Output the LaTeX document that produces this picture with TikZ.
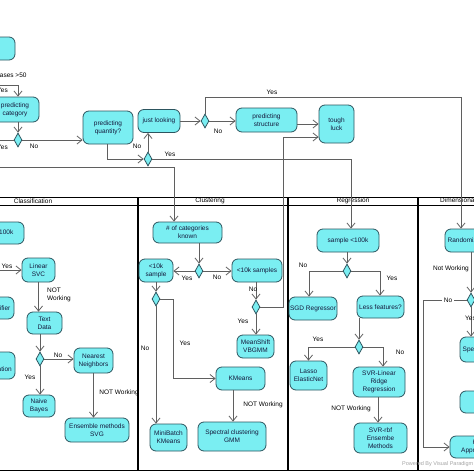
\documentclass[tikz,border=0pt]{standalone}
\usepackage{fontspec}
\setmainfont{Liberation Sans}
\usetikzlibrary{arrows.meta,shapes.geometric,calc}
\definecolor{nfill}{RGB}{122,238,242}
\definecolor{nborder}{RGB}{45,85,95}
\definecolor{ntext}{RGB}{20,25,60}
\definecolor{conn}{RGB}{95,95,95}
\definecolor{wm}{RGB}{165,165,165}
\begin{document}
\begin{tikzpicture}[x=1pt,y=-1pt,
  act/.style={draw=nborder, fill=nfill, rounded corners=6pt, line width=0.8pt, align=center, inner sep=0pt, text=ntext, font=\fontsize{6.5}{8}\selectfont},
  wh/.style 2 args={minimum width=#1pt, minimum height=#2pt},
  dec/.style={draw=nborder, fill=nfill, diamond, line width=0.8pt, inner sep=0pt, minimum width=8pt, minimum height=14pt},
  lbl/.style={font=\fontsize{6.5}{8}\selectfont, inner sep=0pt, text=black},
  arr/.style={draw=conn, line width=0.8pt, -{Straight Barb[length=5pt,width=8pt]}},
  ln/.style={draw=conn, line width=0.8pt},
  lane/.style={draw=black, line width=0.8pt},
  divider/.style={draw=black, line width=1.6pt},
]
\useasboundingbox (0,0) rectangle (474,474);
\fill[white] (0,0) rectangle (474,474);
\clip (0,0) rectangle (474,474);

% swimlanes
\draw[lane] (0,197) -- (474,197);
\draw[lane] (0,205) -- (474,205);
\draw[lane] (0,470) -- (474,470);
\draw[divider] (138,197) -- (138,470);
\draw[divider] (288,197) -- (288,470);
\draw[divider] (418,197) -- (418,470);
\node[lbl] (hcla) at (33,201) {Classification};
\node[lbl] (hclu) at (210,201) {Clustering};
\node[lbl] (hreg) at (353,201) {Regression};
\node[lbl, anchor=west] (hdim) at (440,201) {Dimensionality Reduction};

% top nodes
\node[act, wh={35}{23}] (start) at (-2.5,48.5) {};
\node[act, wh={48}{25}] (pc) at (15,109.5) {predicting\\category};
\node[dec] (d1) at (18,140) {};
\node[act, wh={50}{33}] (pq) at (108,127.5) {predicting\\quantity?};
\node[act, wh={42}{23}] (jl) at (159,121) {just looking};
\node[dec] (d2) at (148,159) {};
\node[dec] (d3) at (205,121) {};
\node[act, wh={61}{24}] (ps) at (266.5,120) {predicting\\structure};
\node[act, wh={35}{38}] (tl) at (336.5,124) {tough\\luck};

% classification
\node[act, wh={62}{22}] (c100) at (-7,233) {sample <100k};
\node[act, wh={33}{24}] (lsvc) at (38.5,270) {Linear\\SVC};
\node[act, wh={35}{22}] (td) at (44.5,323) {Text\\Data};
\node[act, wh={50}{22}] (sgdc) at (-11,308) {SGD Classifier};
\node[act, wh={48}{27}] (ka) at (-9,365.5) {Kernel\\Approximation};
\node[dec] (d4) at (40,359) {};
\node[act, wh={39}{25}] (nn) at (93.5,360.5) {Nearest\\Neighbors};
\node[act, wh={32}{22}] (nb) at (39,406) {Naive\\Bayes};
\node[act, wh={64}{24}] (ens) at (97,430) {Ensemble methods\\SVG};

% clustering
\node[act, wh={69}{21}] (cat) at (187.5,232.5) {\# of categories\\known};
\node[dec] (dc1) at (199,271) {};
\node[act, wh={34}{23}] (s10) at (156,270.5) {<10k\\sample};
\node[act, wh={50}{23}] (s10s) at (257,270.5) {<10k samples};
\node[dec] (dc2) at (256,307) {};
\node[act, wh={37}{23}] (ms) at (255.5,346.5) {MeanShift\\VBGMM};
\node[dec] (dc3) at (156,299) {};
\node[act, wh={49}{23}] (km) at (240.5,378.5) {KMeans};
\node[act, wh={68}{29}] (sc) at (232,436.5) {Spectral clustering\\GMM};
\node[act, wh={37}{27}] (mbk) at (168.5,437.5) {MiniBatch\\KMeans};

% regression
\node[act, wh={62}{23}] (rg) at (348,240.5) {sample <100k};
\node[dec] (dr1) at (347,271) {};
\node[act, wh={48}{23}] (sgdr) at (313,308.5) {SGD Regressor};
\node[act, wh={47}{22}] (lf) at (380.5,307) {Less features?};
\node[dec] (dr2) at (359,347) {};
\node[act, wh={37}{29}] (lasso) at (308.5,375.5) {Lasso\\ElasticNet};
\node[act, wh={52}{30}] (svr) at (379,382) {SVR-Linear\\Ridge\\Regression};
\node[act, wh={53}{30}] (rbf) at (380.5,438) {SVR-rbf\\Ensembe\\Methods};

% dimensionality
\node[act, wh={57}{23}] (dr) at (473.5,240.5) {Randomized PCA};
\node[dec] (dd1) at (471,300) {};
\node[act, wh={64}{25}] (se) at (492,349.5) {Spectral Embedding};
\node[act, wh={64}{22}] (lle) at (492,402) {};
\node[act, wh={64}{22}] (ka2) at (482,447) {Kernel\\Approximation};

% free ends and bends
\coordinate (inYes) at (-2,85);
\coordinate (outL1) at (-2,140);
\coordinate (inCat) at (-2,167);
\coordinate (catIn) at (174,167);
\coordinate (topY) at (461,97);
\coordinate (inLsvc) at (-2,270);

% connectors (top)
\draw[arr] (inYes) -| ([xshift=3pt]pc.north);
\draw[arr] ([xshift=3pt]pc.south) -- (d1.north);
\draw[ln] (d1.west) -- (outL1);
\draw[arr] (d1.east) -- (d1.east -| pq.west);
\draw[arr] ([xshift=-1pt]pq.south) |- (d2.west);
\draw[arr] (d2.north) -- (d2.north |- jl.south);
\draw[arr] (d2.east) -| ([xshift=3pt]rg.north);
\draw[arr] (jl.east) -- (d3.west);
\draw[arr] (d3.east) -- (d3.east -| ps.west);
\draw[arr] (d3.north) |- (topY) -- (topY |- dr.north);
\draw[arr] (ps.east |- tl.west) -- (tl.west);
\draw[arr] (inCat) -- (catIn) -- (catIn |- cat.north);
\draw[arr] (dc2.east) -- (283,307) -- (283,137) -- (tl.west |- 283,137);

% connectors (clustering)
\draw[arr] ([xshift=11.5pt]cat.south) -- (dc1.north);
\draw[arr] (dc1.west) -- (dc1.west -| s10.east);
\draw[arr] (dc1.east) -- (dc1.east -| s10s.west);
\draw[arr] ([xshift=-1pt]s10s.south) -- (dc2.north);
\draw[arr] (dc2.south) -- (dc2.south |- ms.north);
\draw[arr] (s10.south) -- (dc3.north);
\draw[arr] (dc3.east) -- (173,299) |- (km.west);
\draw[arr] (dc3.south) -- (dc3.south |- mbk.north);
\draw[arr] ([xshift=-7.5pt]km.south) coordinate (kmB) -- (kmB |- sc.north);

% connectors (regression)
\draw[arr] ([xshift=-1pt]rg.south) -- (dr1.north);
\draw[arr] (dr1.west) -| ([xshift=-4pt]sgdr.north);
\draw[arr] (dr1.east) -| ([xshift=-0.5pt]lf.north);
\draw[arr] ([xshift=-21.5pt]lf.south) -- (dr2.north);
\draw[arr] (dr2.west) -| (lasso.north);
\draw[arr] (dr2.east) -| ([xshift=4pt]svr.north);
\draw[arr] ([xshift=-1pt]svr.south) coordinate (svB) -- (svB |- rbf.north);

% connectors (classification)
\draw[arr] (inLsvc) -- (lsvc.west);
\draw[arr] (lsvc.south) -- (lsvc.south |- td.north);
\draw[arr] ([xshift=-4.5pt]td.south) -- (d4.north);
\draw[arr] (d4.east) -- (d4.east -| nn.west);
\draw[arr] (d4.south) -- (d4.south |- nb.north);
\draw[arr] (nn.south) -- (nn.south |- ens.north);

% connectors (dimensionality)
\draw[arr] ([xshift=-2.5pt]dr.south) -- (dd1.north);
\draw[arr] (dd1.west) -- (423,300) |- (ka2.west);
\draw[arr] (dd1.south) -- (dd1.south |- se.north);

% redraw nodes on top of lines
\foreach \n in {pc,pq,jl,ps,tl,lsvc,td,nn,nb,ens,cat,s10,s10s,ms,km,sc,mbk,rg,sgdr,lf,lasso,svr,rbf,dr,se,ka2}{}

% labels
\node[lbl, anchor=west] (lcases) at (-3.5,75) {cases >50};
\node[lbl, anchor=west] (ly0) at (-3,90) {Yes};
\node[lbl, anchor=west] (ly1) at (-3,147) {Yes};
\node[lbl] (ln1) at (34,146) {No};
\node[lbl] (ln2) at (137,146) {No};
\node[lbl] (ly2) at (170,154) {Yes};
\node[lbl] (ln3) at (218,131) {No};
\node[lbl] (ly3) at (272,92) {Yes};
\node[lbl] (ly4) at (7,266) {Yes};
\node[lbl, align=left] (lnw1) at (59,294.5) {NOT\\Working};
\node[lbl] (ln4) at (58,355) {No};
\node[lbl] (ly5) at (30,377) {Yes};
\node[lbl] (lnw2) at (119,393) {NOT Working};
\node[lbl] (ly6) at (187,278) {Yes};
\node[lbl] (ln5) at (217,277) {No};
\node[lbl] (ln6) at (253,289) {No};
\node[lbl] (ly7) at (243,321) {Yes};
\node[lbl] (ly8) at (185,343) {Yes};
\node[lbl] (ln7) at (145,348) {No};
\node[lbl] (lnw3) at (263,405) {NOT Working};
\node[lbl] (ln8) at (303,265) {No};
\node[lbl] (ly9) at (392,278) {Yes};
\node[lbl] (ly10) at (318,339) {Yes};
\node[lbl] (ln9) at (400,352) {No};
\node[lbl] (lnw4) at (351,409) {NOT Working};
\node[lbl] (lnw5) at (451,269) {Not Working};
\node[lbl, fill=white, inner xsep=2pt] (ln10) at (448,300) {No};
\node[lbl, anchor=west] (ly11) at (465,318) {Yes};
\node[lbl, anchor=west, text=wm, font=\fontsize{5.5}{6}\selectfont] (pw) at (402,464) {Powered By Visual Paradigm};
\end{tikzpicture}
\end{document}
